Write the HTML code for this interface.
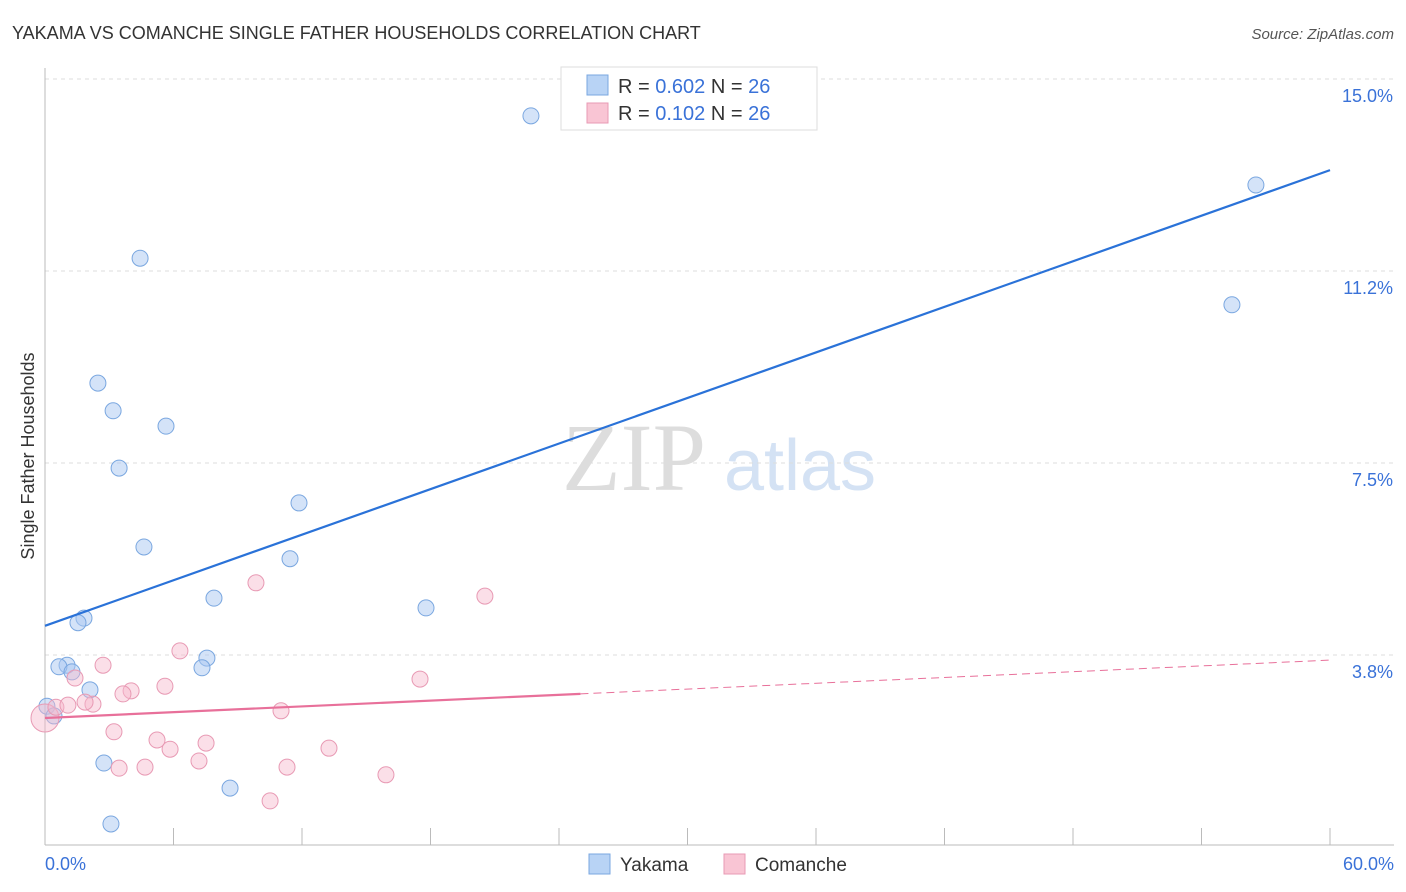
<!DOCTYPE html>
<html><head><meta charset="utf-8"><style>
body{margin:0;background:#fff;font-family:"Liberation Sans",sans-serif;}
svg{display:block}
</style></head><body>
<svg id="c" width="1406" height="892">
<text x="12" y="39" font-size="18" fill="#333">YAKAMA VS COMANCHE SINGLE FATHER HOUSEHOLDS CORRELATION CHART</text>
<text x="1394" y="39" font-size="15" fill="#555" font-style="italic" text-anchor="end">Source: ZipAtlas.com</text>
<text x="634" y="490" font-size="96" fill="#ddd" font-family="Liberation Serif" text-anchor="middle">ZIP</text>
<text x="800" y="490" font-size="72" fill="#d4e2f4" text-anchor="middle">atlas</text>
<text transform="translate(34,456) rotate(-90)" font-size="18" fill="#333" text-anchor="middle">Single Father Households</text>
<g id="grid"></g><g id="marks"></g>
<g>
<rect x="561" y="67" width="256" height="63" fill="#fff" stroke="#ddd"/>
<rect x="587" y="75" width="21" height="20" fill="#b8d3f5" stroke="#7aa7e0"/>
<rect x="587" y="103" width="21" height="20" fill="#f9c5d4" stroke="#e89ab4"/>
<text x="618" y="93" font-size="20" fill="#333">R = <tspan fill="#3a72d8">0.602</tspan>   N = <tspan fill="#3a72d8">26</tspan></text>
<text x="618" y="120" font-size="20" fill="#333">R =  <tspan fill="#3a72d8">0.102</tspan>   N = <tspan fill="#3a72d8">26</tspan></text>
</g>
<g>
<rect x="589" y="854" width="21" height="20" fill="#b8d3f5" stroke="#7aa7e0"/>
<text x="620" y="871" font-size="19" fill="#333">Yakama</text>
<rect x="724" y="854" width="21" height="20" fill="#f9c5d4" stroke="#e89ab4"/>
<text x="755" y="871" font-size="19" fill="#333">Comanche</text>
</g>
</svg>
<script>
const yTicks=[3.8,7.5,11.2,15.0];
const xTickLabels=["0.0%","60.0%"];
const blueX=[22.69,56.54,55.42,4.44,2.47,3.18,5.65,3.46,11.86,4.62,11.44,7.89,17.79,1.82,1.54,1.03,0.65,1.26,7.56,7.33,2.10,0.09,0.42,2.75,8.64,3.08];
const blueY=[14.28,12.93,10.59,11.50,9.06,8.52,8.22,7.40,6.72,5.86,5.63,4.86,4.67,4.47,4.38,3.55,3.52,3.42,3.69,3.50,3.07,2.75,2.56,1.64,1.15,0.45];
const pinkX=[0,0.51,1.07,2.24,1.87,1.40,2.71,4.02,3.64,5.60,6.30,9.85,3.22,5.23,5.84,7.52,7.19,4.67,3.46,11.02,11.30,10.51,13.26,15.92,17.51,20.54];
const pinkY=[2.52,2.73,2.77,2.79,2.83,3.30,3.55,3.05,2.99,3.14,3.83,5.16,2.25,2.09,1.91,2.03,1.68,1.56,1.54,2.66,1.56,0.90,1.93,1.41,3.28,4.90];
const blueLine=[4.32,13.22];
const pinkLine=[2.52,3.65];
const X=v=>45+v*21.417, Y=v=>847-v*51.2;
const NS="http://www.w3.org/2000/svg";
const g=document.getElementById('grid'), m=document.getElementById('marks');
function mk(p,tag,a){const e=document.createElementNS(NS,tag);for(const k in a)e.setAttribute(k,a[k]);p.appendChild(e);return e;}
yTicks.forEach(t=>{const yy=t===15?79:Y(t*1.0)+ (t===3.8?-2.6:t===7.5?0:t===11.2?-1.3:0);
 const l=mk(g,'line',{x1:45,x2:1394,y1:Y(t===3.8?3.75:t===11.2?11.25:t),y2:Y(t===3.8?3.75:t===11.2?11.25:t),stroke:'#ddd','stroke-dasharray':'4,4'});
 
 
 const tx=mk(g,'text',{x:1393,y:Y(t===3.8?3.75:t===11.2?11.25:t)+23,'font-size':18,fill:'#3a72d8','text-anchor':'end'});
 tx.textContent=t.toFixed(1)+'%';
 
 
});
mk(g,'line',{x1:45,x2:45,y1:68,y2:845,stroke:'#bbb'});
mk(g,'line',{x1:45,x2:1394,y1:845,y2:845,stroke:'#bbb'});
for(let i=0;i<=10;i++){const x=45+i*128.5;mk(g,'line',{x1:x,x2:x,y1:828,y2:845,stroke:'#bbb'});}
[[45,'start'],[1394,'end']].forEach((p,i)=>{const t=mk(g,'text',{x:p[0],y:870,'font-size':18,fill:'#3a72d8','text-anchor':p[1]});t.textContent=xTickLabels[i];
 
 });
blueX.forEach((x,i)=>{const c=mk(m,'circle',{cx:X(x),cy:Y(blueY[i]),r:8,fill:'rgba(170,200,242,0.5)',stroke:'#7aa7e0','stroke-width':1});
 
 });
pinkX.forEach((x,i)=>{const c=mk(m,'circle',{cx:X(x),cy:Y(pinkY[i]),r:i===0?14:8,fill:'rgba(247,185,205,0.45)',stroke:'#e89ab4','stroke-width':1});
 
 });
const bl=mk(m,'line',{x1:X(0),y1:Y(blueLine[0]),x2:X(60),y2:Y(blueLine[1]),stroke:'#2a72d8','stroke-width':2.2});


const py=v=>pinkLine[0]+(pinkLine[1]-pinkLine[0])*v/60;
const pl=mk(m,'line',{x1:X(0),y1:Y(py(0)),x2:X(25),y2:Y(py(25)),stroke:'#e8709a','stroke-width':2.2});


const pd=mk(m,'line',{x1:X(25),y1:Y(py(25)),x2:X(60),y2:Y(py(60)),stroke:'#e8709a','stroke-width':1,'stroke-dasharray':'8,5'});


</script>
</body></html>
